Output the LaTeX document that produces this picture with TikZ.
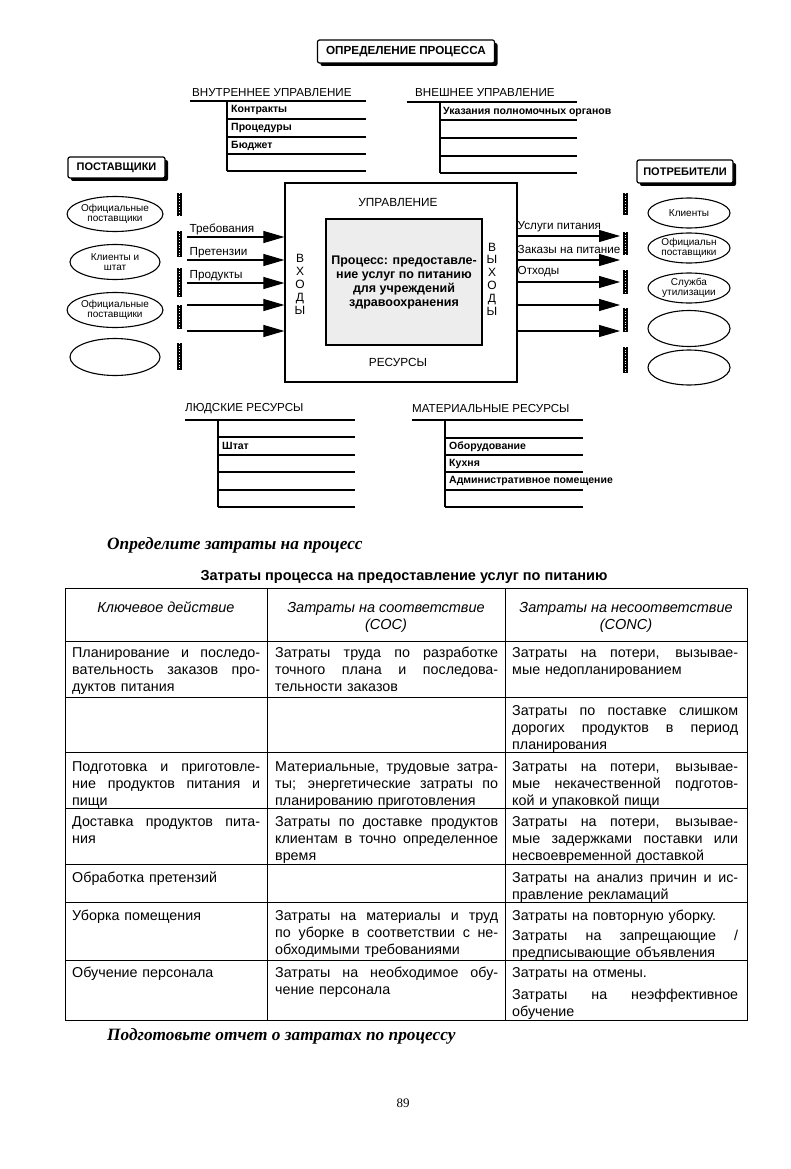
\documentclass[tikz,border=0pt]{standalone}
\usepackage{fontspec}
\setmainfont{Liberation Sans}
\newfontfamily\serifbi{Liberation Serif}
\usetikzlibrary{shapes.geometric,arrows.meta,shadows}
\newcommand\myfs[1]{\fontsize{#1}{#1}\selectfont}
\newcommand\jusline[2]{\leavevmode\hbox to #1{\spaceskip=0.28em plus 1fil\relax\xspaceskip=0.28em plus 1fil\relax #2}}
\newcommand\jusA[1]{\jusline{188pt}{#1}}
\newcommand\jusB[1]{\jusline{223pt}{#1}}
\newcommand\jusC[1]{\jusline{226pt}{#1}}
\begin{document}
\begin{tikzpicture}[x=1pt,y=-1pt,
  shbox/.style={draw, line width=1.2pt, rounded corners=2pt, fill=white, inner sep=0pt,
    font=\myfs{11}\bfseries,
    drop shadow={shadow xshift=3pt,shadow yshift=-3pt,fill=black,opacity=1}},
  ell/.style={ellipse, draw, line width=1.1pt, inner sep=0pt, align=center,
    font=\fontsize{10}{10.5}\selectfont},
  bar/.style={rectangle, fill=black, inner sep=0pt, minimum width=5pt,
    path picture={\draw[white, dotted, line width=0.7pt]
      (path picture bounding box.north) -- (path picture bounding box.south);}},
  arr/.style={line width=1.1pt, -{Triangle[length=21pt,width=12pt]}},
  lab/.style={font=\myfs{11.7}, inner sep=1.5pt, anchor=south west},
  hd/.style={font=\myfs{11.6}, inner sep=0pt, anchor=west},
  rw/.style={font=\myfs{10.5}\bfseries, inner sep=0pt, anchor=west},
  tl/.style={line width=1.1pt},
  tb/.style={line width=1pt},
  cell/.style={anchor=base west, inner sep=0pt, align=left, font=\fontsize{14.3}{17}\selectfont},
  hcell/.style={anchor=base, inner sep=0pt, font=\myfs{14.5}\itshape},
  heading/.style={anchor=west, inner sep=0pt, font=\serifbi\myfs{17.3}\bfseries\itshape}
]
\fill[white] (0,0) rectangle (790,1169);
\useasboundingbox (0,0) rectangle (790,1169);

% title
\node[shbox, minimum width=177pt, minimum height=23pt, font=\myfs{11.7}\bfseries] (title) at (406,51.5) {ОПРЕДЕЛЕНИЕ ПРОЦЕССА};

% internal control table
\node[hd] (intc) at (192,93) {ВНУТРЕННЕЕ УПРАВЛЕНИЕ};
\draw[tl] (190,101) -- (366,101);
\draw[tl] (227,101) -- (227,171);
\foreach \yy in {119,137,154,171} \draw[tl] (227,\yy) -- (366,\yy);
\node[rw] (c1) at (231,110) {Контракты};
\node[rw] (c2) at (231,128) {Процедуры};
\node[rw] (c3) at (231,145.5) {Бюджет};

% external control table
\node[hd] (extc) at (415,93) {ВНЕШНЕЕ УПРАВЛЕНИЕ};
\draw[tl] (407,102) -- (577,102);
\draw[tl] (440,102) -- (440,173);
\foreach \yy in {120,138,156,173} \draw[tl] (440,\yy) -- (577,\yy);
\node[rw] (e1) at (443,111.5) {Указания полномочных органов};

% suppliers
\node[shbox, minimum width=97pt, minimum height=21pt] (sup) at (116.5,167.5) {ПОСТАВЩИКИ};
\node[ell, minimum width=90pt, minimum height=35pt] (s1) at (115,214) {Официальные\\поставщики};
\node[ell, minimum width=90pt, minimum height=35pt] (s2) at (115,262) {Клиенты и\\штат};
\node[ell, minimum width=90pt, minimum height=35pt] (s3) at (115,310) {Официальные\\поставщики};
\node[ell, minimum width=90pt, minimum height=37pt] (s4) at (115,357) {};

\node[bar, minimum height=23pt] (lb1) at (179.5,204.5) {};
\node[bar, minimum height=26pt] (lb2) at (179.5,244) {};
\node[bar, minimum height=29pt] (lb3) at (179.5,282.5) {};
\node[bar, minimum height=24pt] (lb4) at (179.5,317) {};
\node[bar, minimum height=27pt] (lb5) at (179.5,356.5) {};

% central box
\node[draw, line width=1.2pt, minimum width=232pt, minimum height=199pt, inner sep=0pt] (outer) at (401,282.5) {};
\node[draw, line width=1.2pt, fill=black!7, minimum width=156pt, minimum height=126pt, inner sep=0pt] (inner) at (404,282) {};
\node[font=\fontsize{12.5}{14}\selectfont\bfseries, align=center, inner sep=0pt] (proc) at (inner.center) {Процесс: предоставле-\\ние услуг по питанию\\для учреждений\\здравоохранения};
\node[font=\myfs{11.8}, inner sep=0pt] (upr) at (398,202) {УПРАВЛЕНИЕ};
\node[font=\myfs{11.8}, inner sep=0pt] (res) at (398,362) {РЕСУРСЫ};
\node[font=\fontsize{12}{13}\selectfont, align=center, inner sep=0pt] (vin) at (300,284) {В\\Х\\О\\Д\\Ы};
\node[font=\fontsize{12}{12.8}\selectfont, align=center, inner sep=0pt] (vout) at (492,279) {В\\Ы\\Х\\О\\Д\\Ы};

% input arrows
\coordinate (i1) at (187,237);
\coordinate (i2) at (187,260);
\coordinate (i3) at (187,283);
\coordinate (i4) at (187,305);
\coordinate (i5) at (187,331);
\foreach \c in {i1,i2,i3,i4,i5} \draw[arr] (\c) -- (\c -| outer.west);
\node[lab] (li1) at (188,237) {Требования};
\node[lab] (li2) at (188,260) {Претензии};
\node[lab] (li3) at (188,283) {Продукты};

% output arrows
\coordinate (o1) at (620,236);
\coordinate (o2) at (620,260);
\coordinate (o3) at (620,282);
\coordinate (o4) at (620,305);
\coordinate (o5) at (620,331);
\foreach \c in {o1,o2,o3,o4,o5} \draw[arr] (\c -| outer.east) -- (\c);
\node[lab] (lo1) at (516,234) {Услуги питания};
\node[lab] (lo2) at (516,255) {Заказы на питание};
\node[lab] (lo3) at (516,279) {Отходы};

% consumers
\node[shbox, minimum width=96pt, minimum height=23pt] (cons) at (685,171.5) {ПОТРЕБИТЕЛИ};
\node[bar, minimum height=22pt] (rb1) at (625.5,204) {};
\node[bar, minimum height=23pt] (rb2) at (625.5,243.5) {};
\node[bar, minimum height=24pt] (rb3) at (625.5,282) {};
\node[bar, minimum height=24pt] (rb4) at (625.5,320) {};
\node[bar, minimum height=26pt] (rb5) at (625.5,360) {};
\node[ell, minimum width=82pt, minimum height=30pt] (k1) at (689,213) {Клиенты};
\node[ell, minimum width=82pt, minimum height=30pt] (k2) at (689,248) {Официальн\\поставщики};
\node[ell, minimum width=82pt, minimum height=30pt] (k3) at (689,288) {Служба\\утилизации};
\node[ell, minimum width=82pt, minimum height=36pt] (k4) at (689,328.5) {};
\node[ell, minimum width=82pt, minimum height=35pt] (k5) at (689,367.5) {};

% human resources
\node[hd] (hr) at (185,409) {ЛЮДСКИЕ РЕСУРСЫ};
\draw[tl] (185,420) -- (355,420);
\draw[tl] (218,420) -- (218,507);
\foreach \yy in {437,455,472,490,507} \draw[tl] (218,\yy) -- (355,\yy);
\node[rw] (h1) at (222,446) {Штат};

% material resources
\node[hd] (mr) at (412,409) {МАТЕРИАЛЬНЫЕ РЕСУРСЫ};
\draw[tl] (412,420) -- (583,420);
\draw[tl] (445,420) -- (445,507);
\foreach \yy in {438,455,472,490,507} \draw[tl] (445,\yy) -- (583,\yy);
\node[rw] (m1) at (449,447) {Оборудование};
\node[rw] (m2) at (449,463.5) {Кухня};
\node[rw] (m3) at (449,481) {Административное помещение};

% headings
\node[heading] (h1t) at (107,545) {Определите затраты на процесс};
\node[font=\myfs{14.5}\bfseries, inner sep=0pt] (ttl) at (404,577) {Затраты процесса на предоставление услуг по питанию};

% table grid
\draw[tb] (65,588) rectangle (747,1020);
\draw[tb] (267,588) -- (267,1020);
\draw[tb] (505,588) -- (505,1020);
\foreach \yy in {641,697,752,808,864,902,960} \draw[tb] (65,\yy) -- (747,\yy);

% header
\node[hcell] (ha) at (166,612) {Ключевое действие};
\node[hcell] (hb1) at (386,612) {Затраты на соответствие};
\node[hcell] (hb2) at (386,629) {(COC)};
\node[hcell] (hc1) at (626,612) {Затраты на несоответствие};
\node[hcell] (hc2) at (626,629) {(CONC)};

% row 1
\node[cell, text width=188pt] (r1a) at (72,657) {\jusA{Планирование и последо-}\\\jusA{вательность заказов про-}\\дуктов питания};
\node[cell, text width=223pt] (r1b) at (275,657) {\jusB{Затраты труда по разработке}\\\jusB{точного плана и последова-}\\тельности заказов};
\node[cell, text width=226pt] (r1c) at (512,657) {\jusC{Затраты на потери, вызывае-}\\мые недопланированием};
% row 2
\node[cell, text width=226pt] (r2c) at (512,715) {\jusC{Затраты по поставке слишком}\\\jusC{дорогих продуктов в период}\\планирования};
% row 3
\node[cell, text width=188pt] (r3a) at (72,771) {\jusA{Подготовка и приготовле-}\\\jusA{ние продуктов питания и}\\пищи};
\node[cell, text width=223pt] (r3b) at (275,771) {\jusB{Материальные, трудовые затра-}\\\jusB{ты; энергетические затраты по}\\планированию приготовления};
\node[cell, text width=226pt] (r3c) at (512,771) {\jusC{Затраты на потери, вызывае-}\\\jusC{мые некачественной подготов-}\\кой и упаковкой пищи};
% row 4
\node[cell, text width=188pt] (r4a) at (72,826) {\jusA{Доставка продуктов пита-}\\ния};
\node[cell, text width=223pt] (r4b) at (275,826) {\jusB{Затраты по доставке продуктов}\\\jusB{клиентам в точно определенное}\\время};
\node[cell, text width=226pt] (r4c) at (512,826) {\jusC{Затраты на потери, вызывае-}\\\jusC{мые задержками поставки или}\\несвоевременной доставкой};
% row 5
\node[cell, text width=188pt] (r5a) at (72,882) {Обработка претензий};
\node[cell, text width=226pt] (r5c) at (512,882) {\jusC{Затраты на анализ причин и ис-}\\правление рекламаций};
% row 6
\node[cell, text width=188pt] (r6a) at (72,920) {Уборка помещения};
\node[cell, text width=223pt] (r6b) at (275,920) {\jusB{Затраты на материалы и труд}\\\jusB{по уборке в соответствии с не-}\\обходимыми требованиями};
\node[cell, text width=226pt] (r6c1) at (512,920) {Затраты на повторную уборку.};
\node[cell, text width=226pt] (r6c2) at (512,940) {\jusC{Затраты на запрещающие /}\\предписывающие объявления};
% row 7
\node[cell, text width=188pt] (r7a) at (72,977) {Обучение персонала};
\node[cell, text width=223pt] (r7b) at (275,977) {\jusB{Затраты на необходимое обу-}\\чение персонала};
\node[cell, text width=226pt] (r7c1) at (512,977) {Затраты на отмены.};
\node[cell, text width=226pt] (r7c2) at (512,999) {\jusC{Затраты на неэффективное}\\обучение};

\node[heading] (h2t) at (107,1036) {Подготовьте отчет о затратах по процессу};
\node[font=\serifbi\myfs{13}, inner sep=0pt] (pg) at (403,1103) {89};
\end{tikzpicture}
\end{document}
